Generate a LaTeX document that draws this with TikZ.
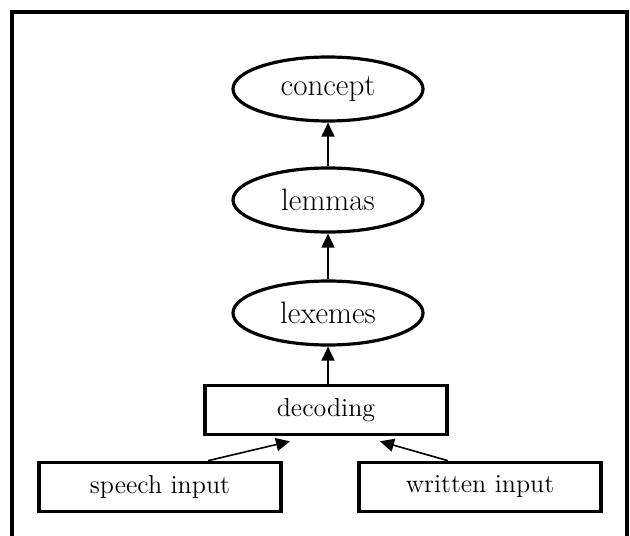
\documentclass[tikz,border=0pt]{standalone}
\usepackage{tikz}
\usetikzlibrary{arrows.meta,positioning,calc,shapes.geometric}
\definecolor{lxink}{HTML}{000000}
\tikzset{
  levelNode/.style={ellipse, draw=lxink, line width=1.6pt, minimum width=95pt, minimum height=32pt, inner sep=0pt, font=\fontsize{15.5}{17}\selectfont},
  stageBox/.style={rectangle, draw=lxink, line width=1.8pt, minimum width=121pt, minimum height=24.5pt, inner sep=0pt, font=\fontsize{13}{15}\selectfont},
  upArrow/.style={-{Triangle[length=7pt, width=6.5pt]}, line width=0.8pt, draw=lxink}
}

\begin{document}
\begin{tikzpicture}[x=0.5pt,y=-0.5pt]
  \useasboundingbox (0,0) rectangle (630,535);
  \clip (0,0) rectangle (630,535);
  % outer frame, open at the bottom
  \draw[line width=2pt] (12,560) -- (12,12) -- (627,12) -- (627,560);
  \node[levelNode] (concept) at (328,89){concept};
  \node[levelNode] (lemmas) at (328,200){lemmas};
  \node[levelNode] (lexemes) at (328,313){lexemes};
  \node[stageBox] (decoding) at (326,410){decoding};
  \node[stageBox] (speech) at (160,487){speech input};
  \node[stageBox] (written) at (480,487){written input};
  \draw[upArrow] (decoding.north -| lexemes.south) -- (lexemes.south);
  \draw[upArrow] (lexemes.north) -- (lemmas.south);
  \draw[upArrow] (lemmas.north) -- (concept.south);
  \draw[upArrow] ($(speech.north)+(48,0)$) -- ($(decoding.south)+(-36,5)$);
  \draw[upArrow] ($(written.north)+(-32,0)$) -- ($(decoding.south)+(54,5)$);
\end{tikzpicture}
\end{document}
